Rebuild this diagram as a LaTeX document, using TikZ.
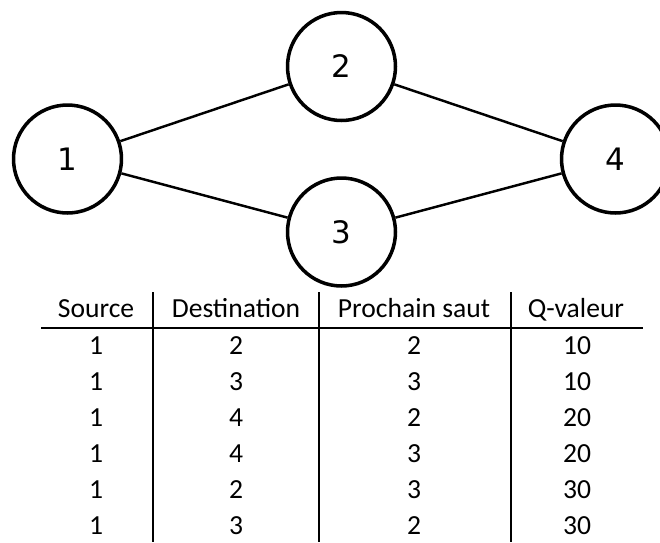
\documentclass[tikz,border=0pt]{standalone}
\usepackage{fontspec}
\setmainfont{Carlito}
\newfontfamily\nodefont{DejaVu Sans}

\begin{document}
\begin{tikzpicture}[
            x=0.02cm, y=-0.02cm,
            router/.style={circle,draw,line width=2pt,minimum size=2.16cm,inner sep=0pt,font=\nodefont\fontsize{17.6}{20}\selectfont},
            link/.style={draw,line width=1.4pt},
            rule/.style={draw,line width=0.6pt},
            cell/.style={anchor=base,inner sep=0pt,font=\fontsize{15.7}{19}\selectfont}
        ]
        \useasboundingbox (0,0) rectangle (660,542);
        \clip (0,0) rectangle (660,542);
        % graph
        \node[router] (r1) at (67.5,159) {1};
        \node[router] (r2) at (341.5,66.5) {2};
        \node[router] (r3) at (341.5,232) {3};
        \node[router] (r4) at (615.5,159) {4};
        \draw[link] (r1) -- (r2);
        \draw[link] (r1) -- (r3);
        \draw[link] (r2) -- (r4);
        \draw[link] (r3) -- (r4);
        % table
        \node[cell] (hsrc) at (96,317) {Source};
        \node[cell] (hdst) at (236,317) {Destination};
        \node[cell] (hhop) at (414,317) {Prochain saut};
        \node[cell] (hval) at (576,317) {Q-valeur};
        \foreach \src/\dst/\hop/\qval [count=\r] in {1/2/2/10,1/3/3/10,1/4/2/20,1/4/3/20,1/2/3/30,1/3/2/30} {
            \node[cell] (src\r) at (96,318+36*\r) {\src};
            \node[cell] (dst\r) at (236,318+36*\r) {\dst};
            \node[cell] (hop\r) at (414,318+36*\r) {\hop};
            \node[cell] (val\r) at (577,318+36*\r) {\qval};
        }
        \coordinate (ruleL) at (41,328);
        \coordinate (ruleR) at (643,328);
        \draw[rule] (ruleL) -- (ruleR);
        \foreach \x in {153,319,511}
            \draw[rule] (\x,292) -- (\x,542);
    \end{tikzpicture}
\end{document}
